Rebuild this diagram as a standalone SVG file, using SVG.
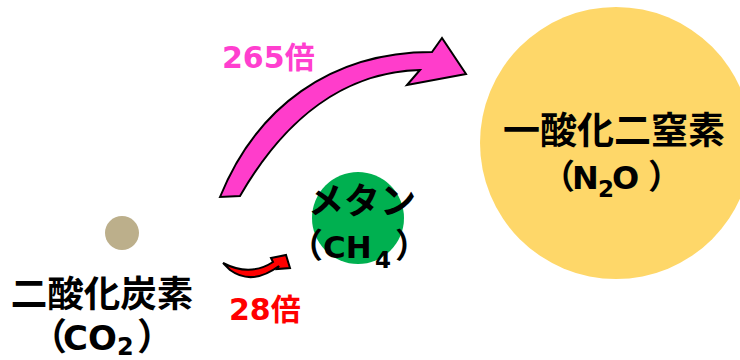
<svg xmlns="http://www.w3.org/2000/svg" width="740" height="360" viewBox="0 0 740 360">
<style>
.t{font-family:"Noto Sans CJK JP","Noto Sans",sans-serif;font-weight:bold;fill:#000}
.l{font-family:"DejaVu Sans","Verdana",sans-serif;font-weight:bold}
.arrow{stroke:#000;stroke-width:2;stroke-linejoin:miter}
</style>
<rect width="740" height="360" fill="#fff"/>
<g id="n2o">
<circle cx="616" cy="143" r="136" fill="#FED769"/>
<text class="t" x="614" y="144" font-size="37" text-anchor="middle">一酸化二窒素</text>
<text class="t" y="189" font-size="34"><tspan x="541">（</tspan><tspan class="l" x="572" font-size="32">N</tspan><tspan class="l" x="598" y="197" font-size="23">2</tspan><tspan class="l" x="612" y="189" font-size="32">O</tspan><tspan x="648">）</tspan></text>
</g>
<g id="ch4">
<circle cx="358" cy="218" r="46" fill="#00B050"/>
<text class="t" x="362" y="214" font-size="36" text-anchor="middle">メタン</text>
<text class="t" y="258" font-size="34"><tspan x="289">（</tspan><tspan class="l" x="323" font-size="31">CH</tspan><tspan class="l" x="375" y="268" font-size="23">4</tspan><tspan x="395" y="258">）</tspan></text>
</g>
<g id="co2">
<circle cx="122" cy="233" r="17" fill="#BCAF8B"/>
<text class="t" x="102" y="307" font-size="36.5" text-anchor="middle">二酸化炭素</text>
<text class="t" y="350" font-size="37"><tspan x="30">（</tspan><tspan class="l" x="63" font-size="34">CO</tspan><tspan class="l" x="117" y="355" font-size="24">2</tspan><tspan x="137" y="350">）</tspan></text>
</g>
<g id="connectors">
<path class="arrow" fill="#FF3DCB" d="M220,197 C256,108 330,52 432,52 L442,38 L466,74 L407,85 L420,70 C345,72 285,118 240,196 Z"/>
<path class="arrow" fill="#FF0000" d="M223,263 Q250,277 273,262 L271,258 L286,255 L290,268 L277,269 L279,266 Q252,286 230,270 Z"/>
<text class="t" x="222" y="68" font-size="30" style="fill:#FF3FCF"><tspan class="l">265</tspan>倍</text>
<text class="t" x="229" y="320" font-size="30" style="fill:#FF0000"><tspan class="l">28</tspan>倍</text>
</g>
</svg>
